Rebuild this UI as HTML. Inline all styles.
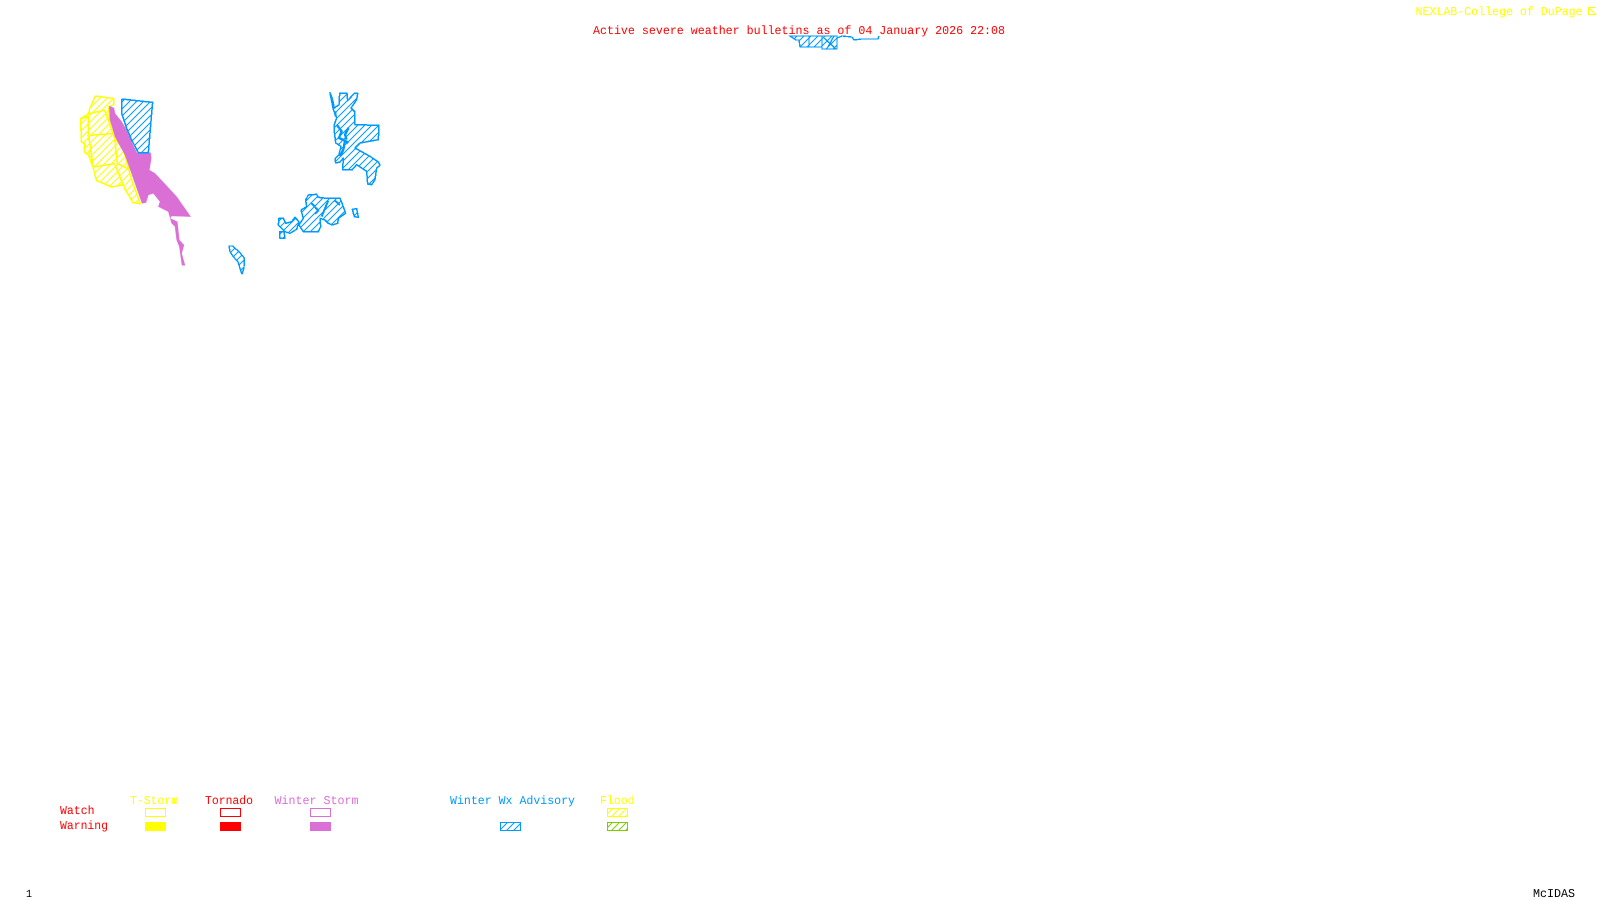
<!DOCTYPE html>
<html><head><meta charset="utf-8"><style>
html,body{margin:0;padding:0;background:#fff;width:1600px;height:900px;overflow:hidden}
svg{display:block}
text{font-family:"Liberation Mono",monospace;font-size:12px;text-rendering:geometricPrecision}
</style></head><body>
<svg width="1600" height="900" viewBox="0 0 1600 900" xmlns="http://www.w3.org/2000/svg">
<defs>
<pattern id="hb" width="7" height="7" patternUnits="userSpaceOnUse"><path d="M-1 8L8 -1M-8 8L8 -8M-1 15L15 -1" stroke="#0099ff" stroke-width="1" fill="none"/></pattern>
<pattern id="hy" width="7" height="7" patternUnits="userSpaceOnUse"><path d="M-1 8L8 -1M-8 8L8 -8M-1 15L15 -1" stroke="#ffff00" stroke-width="1" fill="none"/></pattern>
<pattern id="hg" width="7" height="7" patternUnits="userSpaceOnUse"><path d="M-1 8L8 -1M-8 8L8 -8M-1 15L15 -1" stroke="#7fcc00" stroke-width="1" fill="none"/></pattern>
<pattern id="hb3" width="21" height="21" patternUnits="userSpaceOnUse"><path d="M-3 24L24 -3M-24 24L24 -24M-3 45L45 -3" stroke="#0099ff" stroke-width="3" fill="none"/></pattern>
<pattern id="hy3" width="21" height="21" patternUnits="userSpaceOnUse"><path d="M-3 24L24 -3M-24 24L24 -24M-3 45L45 -3" stroke="#ffff00" stroke-width="3" fill="none"/></pattern>
</defs>

<!-- header -->
<text x="593" y="34" fill="#ff0000" textLength="412" lengthAdjust="spacingAndGlyphs">Active severe weather bulletins as of 04 January 2026 22:08</text>
<text x="1415.500" y="15" fill="#ffff00" textLength="167" lengthAdjust="spacingAndGlyphs">NEXLAB-College of DuPage</text>
<path d="M1595 7.500H1588.500V15M1589 8L1596 15M1589 14.500H1596" stroke="#ffff00" stroke-width="1" fill="none"/>

<!-- top strip advisory -->
<g stroke="#0099ff" stroke-width="1.3" fill="url(#hb)" shape-rendering="crispEdges">
<polygon points="790,36 837,36 837,49 822,49 822,47 800,47 799,40 796,40"/>
<path d="M809,36V47M822,36V47M828,47L834,36M824,38L836,49M837,38L842,36L852,37L854,40L862,39L878,39L879,36" fill="none"/>
</g>

<!-- yellow flood watch -->
<g transform="translate(78,92) scale(.33333)" fill="url(#hy3)" stroke="#ffff00" stroke-width="4.500" stroke-linejoin="round" shape-rendering="crispEdges">
<polygon points="52,12 108,20 108,38 92,45 95,95 110,140 135,170 160,260 187,335 165,332 140,290 135,278 100,285 55,265 45,225 32,190 18,180 20,155 10,150 8,80 32,65 35,50"/>
<path fill="none" d="M8,80L32,72L30,130L38,165L32,190M32,65L80,55L95,95M35,130L100,125M38,165L45,225L110,215L135,278M110,140L118,215L160,235"/>
</g>

<!-- purple winter storm warning -->
<g transform="translate(60,80) scale(.33333)" fill="#da70d6" stroke="#da70d6" stroke-width="1">
<polygon points="148,78 162,84 165,100 185,125 197,145 212,180 230,218 272,218 274,235 268,270 285,280 315,312 350,350 392,410 335,408 330,415 352,425 358,480 372,495 365,520 375,556 366,556 358,500 350,480 345,440 335,430 325,395 295,380 300,365 280,340 265,345 258,368 246,370 225,310 195,225 165,170 150,120"/>
</g>

<!-- blue big polygon -->
<g transform="translate(60,80) scale(.33333)" fill="url(#hb3)" stroke="#0099ff" stroke-width="4.500" stroke-linejoin="round" shape-rendering="crispEdges">
<polygon points="186,57 230,62 278,67 275,100 265,218 235,218 215,180 200,145 185,100"/>
</g>

<!-- east advisory upper -->
<g transform="translate(325,88) scale(.33333)" fill="url(#hb3)" stroke="#0099ff" stroke-width="4.500" stroke-linejoin="round" shape-rendering="crispEdges">
<polygon points="15,14 22,32 28,60 42,50 44,16 66,16 68,38 88,16 98,16 95,35 78,60 90,72 90,110 162,112 160,155 105,165 90,180 135,205 160,222 165,232 155,240 150,275 140,290 128,288 125,250 95,230 82,245 53,245 55,210 45,222 32,225 30,212 42,200 48,175 32,165 28,130 28,110 35,90 25,65"/>
<path fill="none" stroke-width="7" d="M30,70L32,85M35,110L50,130L42,150L60,158L70,165M60,158L55,185L45,205M70,120L60,140L65,155"/>
</g>

<!-- east advisory lower -->
<g transform="translate(275,190) scale(.33333)" fill="url(#hb3)" stroke="#0099ff" stroke-width="4.500" stroke-linejoin="round" shape-rendering="crispEdges">
<polygon points="100,15 125,13 130,22 155,25 195,25 203,45 212,70 190,85 188,100 172,105 160,100 150,90 135,85 137,110 130,125 85,125 72,105 85,85 78,60 95,50 92,30"/>
<polygon points="12,85 25,85 32,100 50,95 60,82 72,95 65,118 45,130 30,125 10,105"/>
<polygon points="14,125 27,125 30,145 15,145"/>
<polygon points="232,58 245,56 250,82 238,80"/>
<path fill="none" stroke-width="6" d="M160,32L150,55L140,80M110,40L130,62L120,72M180,32L195,45"/>
</g>

<!-- small advisory blob -->
<g fill="url(#hb)" stroke="#0099ff" stroke-width="1.400" stroke-linejoin="round" shape-rendering="crispEdges">
<polygon points="229,246 232.700,246 240,252.700 244.300,258 244,268 242,274 240.700,270.700 238,261.700 233.300,256.700 230,251.700"/>
</g>

<!-- legend -->
<text x="130" y="804" fill="#ffff00" textLength="48" lengthAdjust="spacingAndGlyphs">T-Storm</text>
<text x="205" y="804" fill="#ff0000" textLength="48" lengthAdjust="spacingAndGlyphs">Tornado</text>
<text x="274.500" y="804" fill="#da70d6" textLength="84" lengthAdjust="spacingAndGlyphs">Winter Storm</text>
<text x="450" y="804" fill="#0099ff" textLength="125" lengthAdjust="spacingAndGlyphs">Winter Wx Advisory</text>
<text x="600" y="804" fill="#ffff00" textLength="34.500" lengthAdjust="spacingAndGlyphs">Flood</text>
<text x="60" y="814" fill="#ff0000" textLength="34.500" lengthAdjust="spacingAndGlyphs">Watch</text>
<text x="60" y="829" fill="#ff0000" textLength="48" lengthAdjust="spacingAndGlyphs">Warning</text>

<g shape-rendering="crispEdges" stroke-width="1">
<rect x="145.500" y="808.500" width="20" height="8" fill="none" stroke="#ffff00"/>
<rect x="145" y="822" width="21" height="9" fill="#ffff00"/>
<rect x="220.500" y="808.500" width="20" height="8" fill="none" stroke="#ff0000"/>
<rect x="220" y="822" width="21" height="9" fill="#ff0000"/>
<rect x="310.500" y="808.500" width="20" height="8" fill="none" stroke="#da70d6"/>
<rect x="310" y="822" width="21" height="9" fill="#da70d6"/>
<rect x="500.500" y="822.500" width="20" height="8" fill="url(#hb)" stroke="#0099ff"/>
<rect x="607.500" y="808.500" width="20" height="8" fill="url(#hy)" stroke="#ffff00"/>
<rect x="607.500" y="822.500" width="20" height="8" fill="url(#hg)" stroke="#7fcc00"/>
</g>

<!-- footer -->
<text x="26" y="897" fill="#000" style="font-size:11px" textLength="6" lengthAdjust="spacingAndGlyphs">1</text>
<text x="1533" y="897" fill="#000" textLength="42" lengthAdjust="spacingAndGlyphs">McIDAS</text>
</svg>
</body></html>
